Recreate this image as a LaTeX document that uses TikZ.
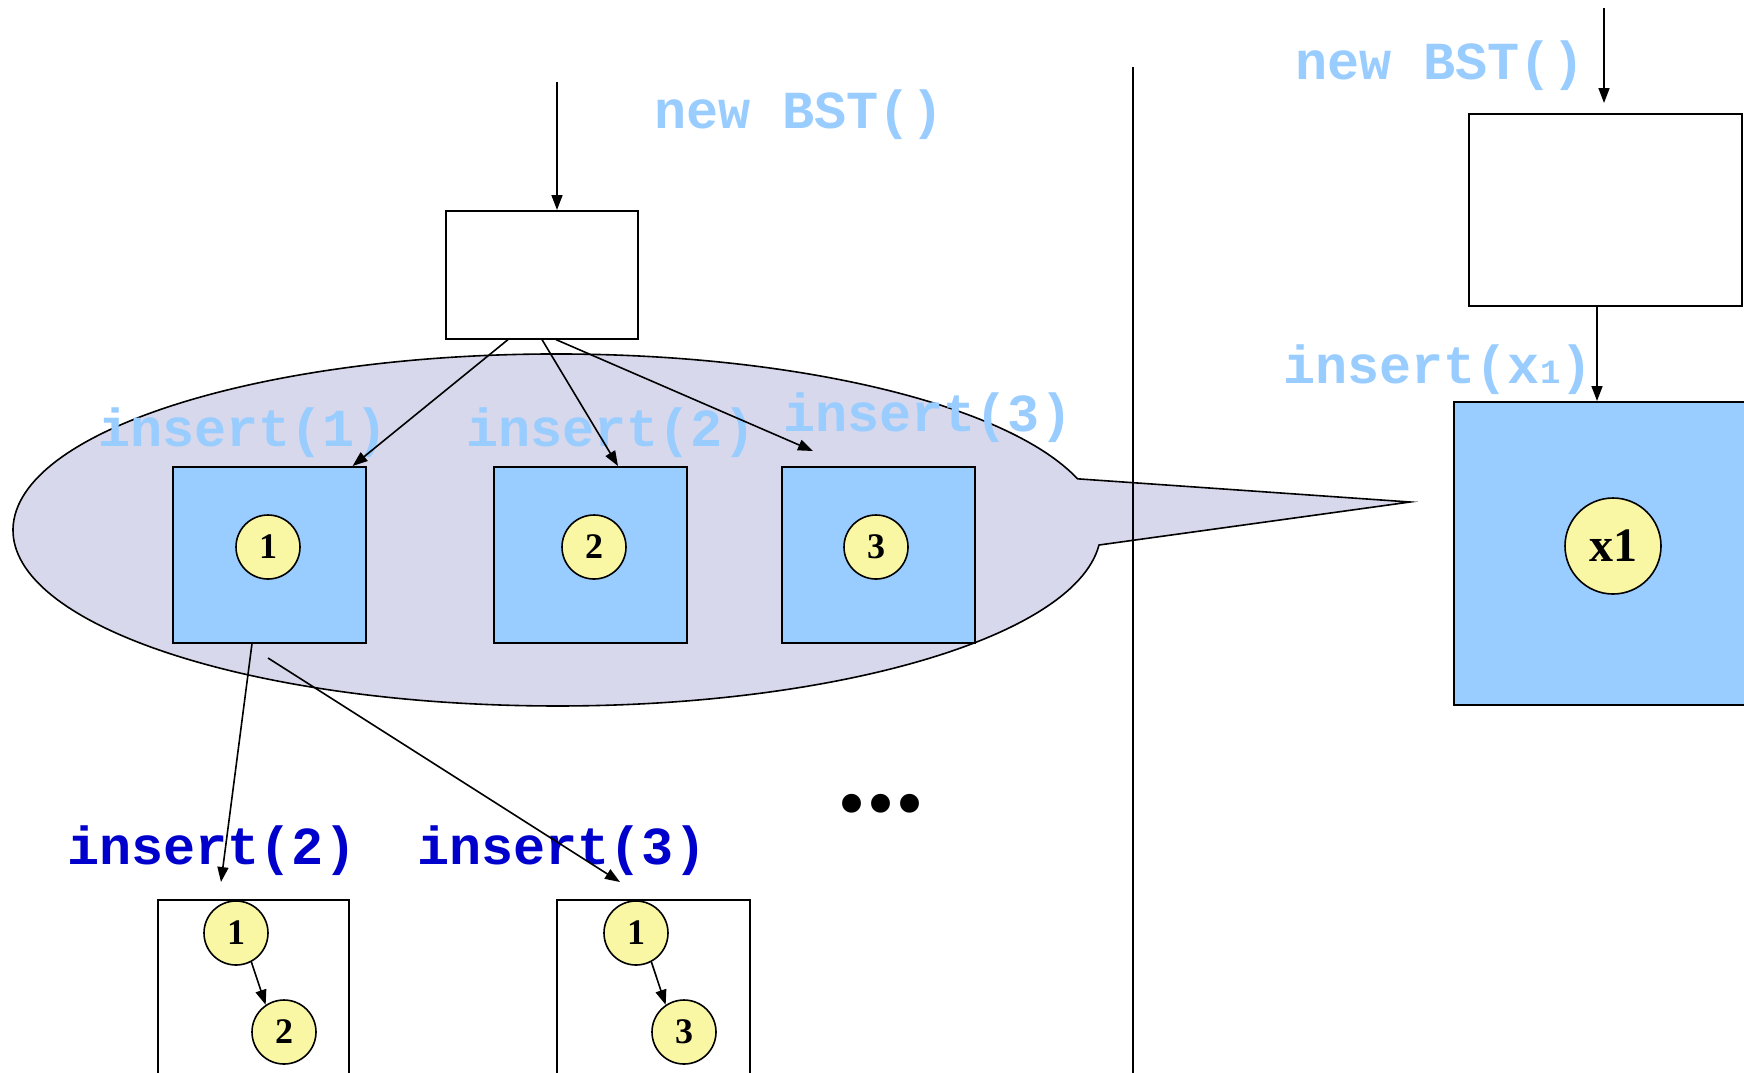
\documentclass[tikz,border=0pt]{standalone}
\usepackage{fontspec}
\setmainfont{Liberation Serif}
\newfontfamily\codefont{Liberation Mono}
\usetikzlibrary{arrows.meta,calc}
\definecolor{lblue}{HTML}{99CCFF}
\definecolor{dblue}{HTML}{0000CC}
\definecolor{lav}{HTML}{D8D8EC}
\definecolor{yel}{HTML}{F9F7A4}
\tikzset{
  ln/.style={line width=1.6pt},
  arr/.style={ln,-{Triangle[length=15pt,width=11pt]}},
  plainbox/.style={draw,ln,rectangle,inner sep=0pt,anchor=north west,fill=white},
  bluebox/.style={draw,ln,rectangle,inner sep=0pt,anchor=north west,fill=lblue},
  keynode/.style={draw,ln,circle,fill=yel,inner sep=0pt,minimum size=64pt,
    font=\bfseries\fontsize{36}{40}\selectfont},
  code/.style={inner sep=0pt,anchor=base west,text=lblue,
    font=\codefont\bfseries\fontsize{53.5}{60}\selectfont},
  darkcode/.style={code,text=dblue}
}
\begin{document}
\begin{tikzpicture}[x=1pt,y=-1pt]
\useasboundingbox (0,0) rectangle (1744,1072);
\clip (0,0) rectangle (1744,1072);

% callout ellipse
\draw[ln,fill=lav] (1099,545) arc[start angle=4.9,end angle=343.1,x radius=544,y radius=176]
  -- (1410,502) -- cycle;

% divider
\draw[ln] (1133,67) -- (1133,1080);

% left part
\node[plainbox,minimum width=192pt,minimum height=128pt] (top) at (445,210) {};
\coordinate (topin) at ($(top.north west)+(112,-128)$);

\node[bluebox,minimum width=193pt,minimum height=176pt] (b1) at (172,466) {};
\node[bluebox,minimum width=193pt,minimum height=176pt] (b2) at (493,466) {};
\node[bluebox,minimum width=193pt,minimum height=176pt] (b3) at (781,466) {};
\node[keynode] (k1) at (268,547) {1};
\node[keynode] (k2) at (594,547) {2};
\node[keynode] (k3) at (876,547) {3};

\node[code] (newL) at (654,128) {new BST()};
\node[code] (ins1) at (98,446) {insert(1)};
\node[code] (ins2) at (466,446) {insert(2)};
\node[code] (ins3) at (783,431) {insert(3)};

\draw[arr] (topin) -- (top.north -| topin);
\draw[arr] ($(top.south west)+(63,0)$) -- ($(b1.north east)+(-14,0)$);
\draw[arr] ($(top.south west)+(97,0)$) -- ($(b2.north west)+(125,0)$);
\coordinate (t3) at ($(b3.north west)+(32,-15)$);
\draw[arr] ($(top.south west)+(111,0)$) -- (t3);

% bottom left trees
\node[plainbox,minimum width=191pt,minimum height=200pt] (bb1) at (157,899) {};
\node[plainbox,minimum width=193pt,minimum height=200pt] (bb2) at (556,899) {};
\node[keynode] (m1) at (236,933) {1};
\node[keynode] (m2) at (284,1032) {2};
\node[keynode] (n1) at (636,933) {1};
\node[keynode] (n3) at (684,1032) {3};
\draw[arr] (m1.-62) -- (m2.124);
\draw[arr] (n1.-62) -- (n3.124);

\node[darkcode] (bins2) at (67,864) {insert(2)};
\node[darkcode] (bins3) at (417,864) {insert(3)};

\coordinate (s2) at (268,658);
\coordinate (e1) at (221,882);
\coordinate (e2) at (620,882);
\draw[arr] ($(b1.south west)+(80,0)$) -- (e1);
\draw[arr] (s2) -- (e2);

\node[inner sep=0pt,anchor=base west,font=\bfseries\fontsize{116}{120}\selectfont] (dots) at (837,811) {...};

% right part
\node[code] (newR) at (1295,79) {new BST()};
\node[plainbox,minimum width=273pt,minimum height=192pt] (rtop) at (1468,113) {};
\node[bluebox,minimum width=320pt,minimum height=303pt] (rblue) at (1453,401) {};
\node[keynode,minimum size=96pt,font=\bfseries\fontsize{48}{52}\selectfont] (kx) at (1613,546) {x1};
\node[code] (insx) at (1283,383) {insert(x{\fontsize{34}{40}\selectfont 1})};

\coordinate (rin) at (1604,8);
\draw[arr] (rin) -- ($(rtop.north -| rin)+(0,-10)$);
\draw[arr] ($(rtop.south west)+(129,0)$) -- ($(rblue.north west)+(144,0)$);
\end{tikzpicture}
\end{document}
